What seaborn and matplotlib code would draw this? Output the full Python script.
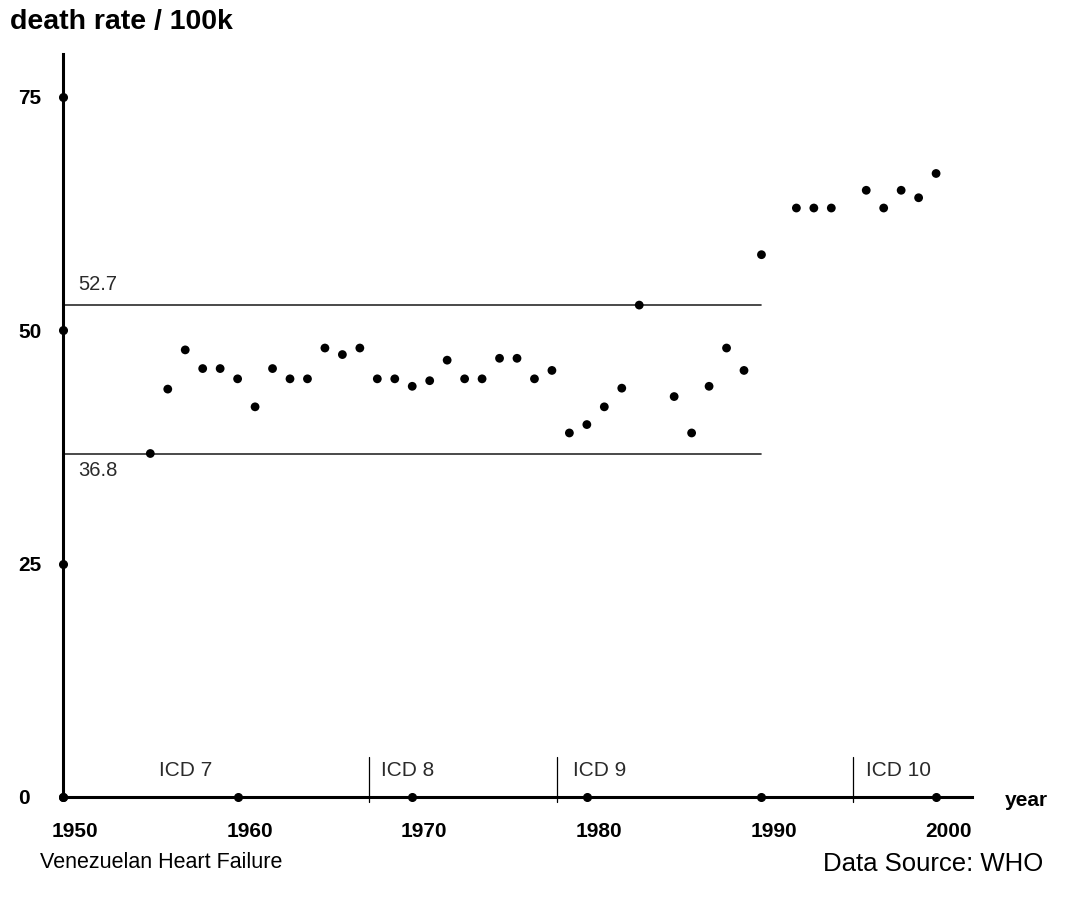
import matplotlib
matplotlib.use("Agg")
import matplotlib.pyplot as plt
from matplotlib.transforms import ScaledTranslation
import seaborn as sns
import pandas as pd

sns.set_theme(style="white")
plt.rcParams["font.family"] = ["Liberation Sans", "DejaVu Sans"]
plt.rcParams["text.color"] = "black"
plt.rcParams["xtick.color"] = "black"
plt.rcParams["ytick.color"] = "black"

# Heart failure death rate per 100k, Venezuela
years = [1955, 1956, 1957, 1958, 1959, 1960, 1961, 1962, 1963, 1964,
         1965, 1966, 1967, 1968, 1969, 1970, 1971, 1972, 1973, 1974,
         1975, 1976, 1977, 1978, 1979, 1980, 1981, 1982, 1983,
         1985, 1986, 1987, 1988, 1989, 1990,
         1992, 1993, 1994, 1996, 1997, 1998, 1999, 2000]
rates = [36.8, 43.7, 47.9, 45.9, 45.9, 44.8, 41.8, 45.9, 44.8, 44.8,
         48.1, 47.4, 48.1, 44.8, 44.8, 44.0, 44.6, 46.8, 44.8, 44.8,
         47.0, 47.0, 44.8, 45.7, 39.0, 39.9, 41.8, 43.8, 52.7,
         42.9, 39.0, 44.0, 48.1, 45.7, 58.1,
         63.1, 63.1, 63.1, 65.0, 63.1, 65.0, 64.2, 66.8]

# control limits drawn across the ICD 7-9 period
limits = [52.7, 36.8]
limit_labels = ["52.7", "36.8"]
limit_end = 1990

# ICD revision boundaries and labels
icd_breaks = [1967.5, 1978.3, 1995.25]
icd_names = ["ICD 7", "ICD 8", "ICD 9", "ICD 10"]
icd_label_x = [1955.5, 1968.2, 1979.2, 1996.0]

x_ticks = [1950, 1960, 1970, 1980, 1990, 2000]
y_ticks = [0, 25, 50, 75]

df = pd.DataFrame({"year": years, "rate": rates})

fig = plt.figure(figsize=(10.69, 9.06), dpi=100)
ax = fig.add_axes([63 / 1069, 109 / 906, 908.7 / 1069, 743 / 906])
ax.set_xlim(1950, 2002.04)
ax.set_ylim(0, 79.6)

# control limit lines and their labels
for val, lab, off in zip(limits, limit_labels, [2.2, -1.8]):
    ax.plot([1950, limit_end], [val, val], color="#2b2b2b", lw=1.2, zorder=2)
    ax.text(1950.85, val + off, lab, fontsize=14.5, color="#2a2a2a",
            ha="left", va="center")

# ICD revision markers
for b in icd_breaks:
    ax.plot([b, b], [-0.5, 4.3], color="black", lw=0.9, clip_on=False, zorder=3)
for name, lx in zip(icd_names, icd_label_x):
    ax.text(lx, 2.8, name, fontsize=15, color="#2a2a2a", ha="left", va="center")

sns.scatterplot(data=df, x="year", y="rate", ax=ax, color="black",
                s=40, edgecolor="none", zorder=4, clip_on=False)

# dot markers at the tick positions on both axes
ax.plot(x_ticks, [0] * len(x_ticks), "o", color="black", ms=5.5,
        clip_on=False, zorder=5)
ax.plot([x_ticks[0]] * len(y_ticks), y_ticks, "o", color="black", ms=5.5,
        clip_on=False, zorder=5)

for side in ["top", "right"]:
    ax.spines[side].set_visible(False)
for side in ["left", "bottom"]:
    ax.spines[side].set_color("black")
    ax.spines[side].set_linewidth(2.2)

ax.set_xticks(x_ticks)
ax.set_xticklabels([str(t) for t in x_ticks], fontsize=15, fontweight="bold")
ax.set_yticks(y_ticks)
ax.set_yticklabels([str(t) for t in y_ticks], fontsize=15, fontweight="bold",
                   ha="left")
ax.tick_params(axis="x", length=0, pad=18)
ax.tick_params(axis="y", length=0, pad=32)
shift = ScaledTranslation(0.12, 0, fig.dpi_scale_trans)
for lab in ax.get_xticklabels():
    lab.set_transform(lab.get_transform() + shift)

ax.set_xlabel("")
ax.set_ylabel("")
ax.grid(False)

fig.text(10 / 1069, 1 - 22 / 906, "death rate / 100k", fontsize=20.5,
         fontweight="bold", ha="left", va="center")
fig.text(1005 / 1069, 1 - 800 / 906, "year", fontsize=15,
         fontweight="bold", ha="left", va="center")
fig.text(40 / 1069, 1 - 862 / 906, "Venezuelan Heart Failure", fontsize=15.5,
         ha="left", va="center")
fig.text(1043 / 1069, 1 - 864 / 906, "Data Source: WHO", fontsize=18.5,
         ha="right", va="center")

fig.savefig("out.png", dpi=100, facecolor="white")
